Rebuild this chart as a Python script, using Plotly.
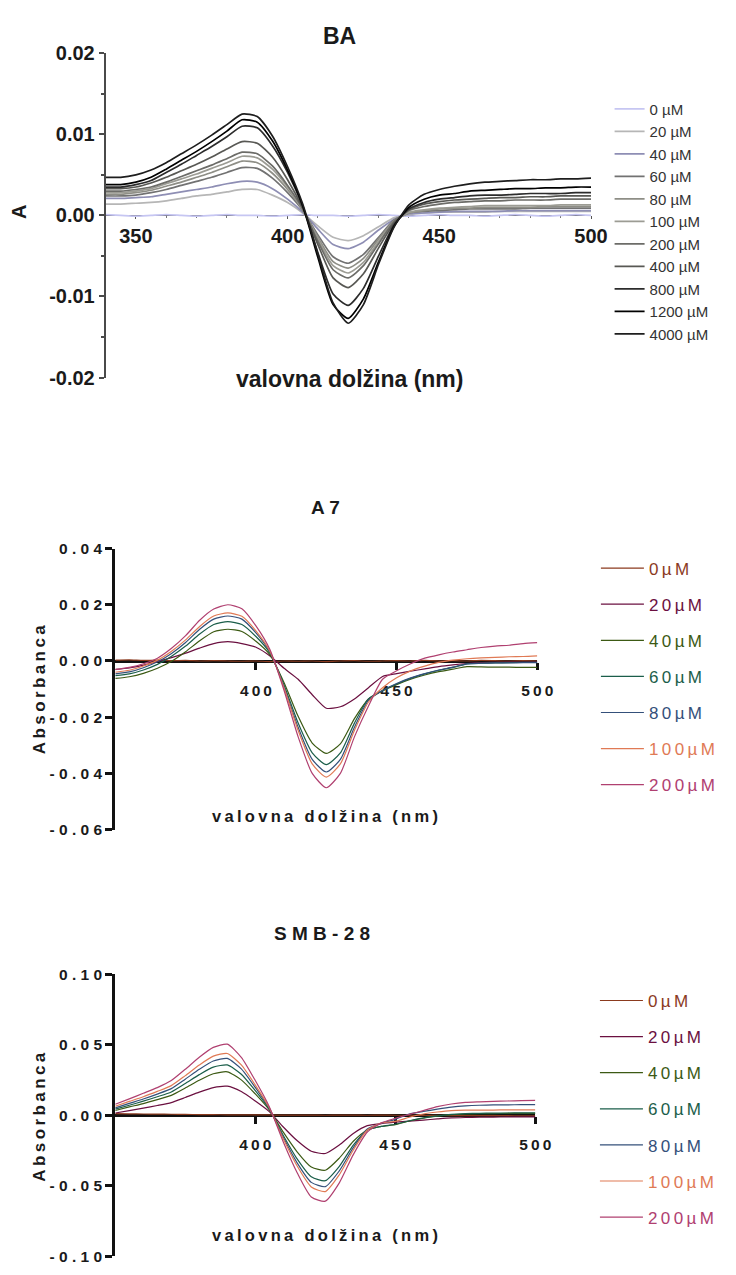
import plotly.graph_objects as go

W, H = 736, 1275

# ---------------- DATA ----------------
# BA panel (absorbance, x1e-3)
wl_ba = list(range(340, 505, 5))
ba_labels = ["0 µM", "20 µM", "40 µM", "60 µM", "80 µM", "100 µM", "200 µM",
             "400 µM", "800 µM", "1200 µM", "4000 µM"]
ba_0 = [0.1, 0.0, -0.1, 0.0, 0.1, 0.0, -0.1, 0.0, 0.1, 0.0, 0.0, -0.1, 0.0, 0.1, 0.0, 0.0, -0.1,
        0.0, 0.1, 0.0, -0.1, 0.0, 0.1, 0.0, 0.0, -0.1, 0.0, 0.1, 0.0, -0.1, 0.0, 0.1, 0.0]
ba_20 = [1.4, 1.4, 1.5, 1.6, 1.8, 2.1, 2.4, 2.6, 2.9, 3.2, 3.2, 2.5, 1.6, 0.3, -1.3, -2.7, -3.1,
         -2.5, -1.4, -0.3, 0.1, 0.3, 0.4, 0.4, 0.4, 0.4, 0.5, 0.5, 0.5, 0.5, 0.5, 0.5, 0.5]
ba_40 = [2.1, 2.1, 2.2, 2.3, 2.6, 2.9, 3.2, 3.5, 3.9, 4.2, 4.1, 3.3, 2.0, 0.4, -1.7, -3.6, -4.1,
         -3.3, -1.8, -0.5, 0.2, 0.3, 0.4, 0.5, 0.5, 0.5, 0.5, 0.6, 0.6, 0.6, 0.6, 0.6, 0.6]
ba_60 = [2.4, 2.4, 2.5, 2.8, 3.2, 3.7, 4.2, 4.7, 5.3, 5.9, 5.8, 4.6, 2.8, 0.6, -2.4, -5.1, -5.9,
         -4.8, -2.7, -0.6, 0.3, 0.5, 0.6, 0.7, 0.8, 0.8, 0.8, 0.8, 0.9, 0.9, 0.9, 0.9, 0.9]
ba_80 = [2.6, 2.6, 2.8, 3.1, 3.6, 4.1, 4.7, 5.3, 6.0, 6.7, 6.5, 5.2, 3.2, 0.7, -2.7, -5.7, -6.5,
         -5.3, -2.9, -0.7, 0.3, 0.6, 0.8, 0.9, 0.9, 1.0, 1.0, 1.0, 1.0, 1.1, 1.1, 1.1, 1.1]
ba_100 = [2.8, 2.8, 3.0, 3.3, 3.9, 4.5, 5.1, 5.8, 6.5, 7.3, 7.1, 5.7, 3.5, 0.7, -2.9, -6.2, -7.1,
          -5.8, -3.2, -0.8, 0.4, 0.7, 0.9, 1.0, 1.1, 1.2, 1.2, 1.2, 1.2, 1.2, 1.3, 1.3, 1.3]
ba_200 = [3.0, 3.0, 3.2, 3.5, 4.1, 4.8, 5.5, 6.2, 7.0, 7.8, 7.6, 6.1, 3.7, 0.8, -3.2, -6.7, -7.7,
          -6.2, -3.5, -0.8, 0.6, 1.1, 1.4, 1.6, 1.7, 1.8, 1.8, 1.9, 1.9, 1.9, 2.0, 2.0, 2.0]
ba_400 = [3.3, 3.3, 3.5, 4.0, 4.7, 5.5, 6.3, 7.2, 8.2, 9.1, 8.9, 7.2, 4.4, 0.9, -3.6, -7.7, -8.9,
          -7.2, -4.0, -1.0, 0.7, 1.4, 1.7, 1.9, 2.0, 2.1, 2.2, 2.2, 2.3, 2.3, 2.4, 2.4, 2.4]
ba_800 = [3.5, 3.5, 3.8, 4.3, 5.3, 6.3, 7.4, 8.5, 9.7, 11.0, 10.8, 8.6, 5.3, 1.1, -4.6, -9.7, -11.1,
          -9.0, -5.0, -1.2, 0.8, 1.6, 2.0, 2.2, 2.4, 2.5, 2.5, 2.6, 2.7, 2.7, 2.7, 2.8, 2.8]
ba_1200 = [3.8, 3.8, 4.1, 4.7, 5.7, 6.8, 7.9, 9.1, 10.4, 11.8, 11.5, 9.2, 5.6, 1.2, -5.2, -11.0, -12.7,
           -10.3, -5.7, -1.4, 1.0, 2.0, 2.5, 2.7, 3.0, 3.1, 3.2, 3.3, 3.3, 3.4, 3.4, 3.5, 3.5]
ba_4000 = [4.7, 4.7, 5.0, 5.6, 6.5, 7.6, 8.7, 9.9, 11.2, 12.5, 12.2, 9.8, 6.0, 1.4, -4.8, -10.8, -13.3,
           -11.0, -6.0, -1.5, 1.3, 2.6, 3.2, 3.6, 3.9, 4.1, 4.2, 4.3, 4.4, 4.4, 4.5, 4.5, 4.6]

# A7 panel (absorbance, x1e-3)
wl_a7 = list(range(350, 505, 5))
a7_labels = ["0µM", "20µM", "40µM", "60µM", "80µM", "100µM", "200µM"]
a7_0 = [0.3, 0.4, 0.2, 0.3, 0.1, 0.2, 0.0, 0.1, 0.0, -0.1, 0.0, -0.2, 0.0, -0.1, 0.0, -0.2,
        0.0, 0.1, -0.1, 0.0, 0.1, 0.0, 0.2, 0.0, 0.1, 0.0, 0.2, 0.1, 0.0, 0.1, 0.0]
a7_20 = [-3.0, -2.5, -1.5, -0.2, 1.2, 2.8, 4.6, 6.2, 6.9, 6.2, 4.9, 1.8, -2.6, -6.5, -12.0, -16.8,
         -16.3, -13.5, -9.5, -5.5, -4.5, -3.6, -2.8, -2.0, -1.4, -0.9, -0.6, -0.5, -0.4, -0.4, -0.3]
a7_40 = [-6.2, -5.6, -4.4, -2.6, -0.1, 3.3, 7.2, 10.4, 11.3, 10.5, 7.0, 2.2, -7.7, -19.7, -29.2, -32.9,
         -29.5, -20.5, -13.5, -10.6, -8.4, -6.5, -5.0, -3.8, -2.9, -2.0, -2.1, -2.2, -2.2, -2.3, -2.3]
a7_60 = [-5.2, -4.6, -3.2, -1.2, 1.7, 5.3, 9.6, 13.0, 14.0, 13.0, 8.7, 2.8, -8.6, -22.1, -32.7, -36.9,
         -32.7, -22.1, -13.5, -10.5, -8.2, -6.2, -4.6, -3.3, -2.3, -1.0, -0.8, -0.7, -0.6, -0.5, -0.5]
a7_80 = [-4.6, -3.9, -2.4, -0.3, 2.7, 6.6, 11.3, 14.9, 16.0, 14.9, 10.0, 3.2, -9.2, -23.6, -35.0, -39.5,
         -35.0, -23.6, -14.0, -10.5, -8.0, -6.0, -4.5, -3.2, -2.2, -1.0, -0.8, -0.7, -0.7, -0.6, -0.6]
a7_100 = [-4.0, -3.3, -1.8, 0.3, 3.5, 7.5, 12.3, 16.0, 17.1, 15.9, 10.7, 3.4, -9.6, -24.7, -36.6, -41.3,
          -36.6, -24.7, -14.6, -9.5, -6.0, -3.5, -1.8, -0.5, 0.3, 0.8, 1.1, 1.3, 1.5, 1.6, 1.8]
a7_200 = [-3.1, -2.3, -1.0, 1.0, 4.5, 9.0, 14.5, 18.5, 20.0, 18.6, 12.5, 4.0, -10.5, -27.0, -40.0, -45.1,
          -40.0, -27.0, -16.0, -6.5, -3.5, -1.0, 1.0, 2.2, 3.2, 4.0, 4.8, 5.3, 5.6, 6.2, 6.5]

# SMB-28 panel (absorbance, x1e-3)
wl_smb = list(range(350, 505, 5))
smb_labels = ["0µM", "20µM", "40µM", "60µM", "80µM", "100µM", "200µM"]
smb_0 = [1.0, 0.9, 0.8, 0.7, 0.6, 0.5, 0.4, 0.3, 0.2, 0.2, 0.1, 0.1, 0.0, 0.0, 0.0, -0.1,
         0.0, 0.0, -0.1, 0.0, -0.1, -0.1, -0.2, -0.2, -0.3, -0.3, -0.4, -0.4, -0.4, -0.5, -0.5]
smb_20 = [1.5, 3.2, 4.9, 6.8, 8.9, 12.5, 16.3, 19.5, 20.5, 16.7, 10.0, 2.5, -8.4, -18.2, -25.6, -27.2,
          -21.2, -13.0, -7.5, -6.0, -5.0, -4.2, -3.5, -2.7, -2.0, -1.7, -1.5, -1.4, -1.3, -1.2, -1.2]
smb_40 = [3.3, 5.8, 8.2, 11.0, 14.0, 19.2, 24.7, 29.3, 30.7, 25.0, 15.0, 3.7, -12.1, -26.2, -36.8, -39.1,
          -30.5, -18.5, -10.5, -8.0, -6.8, -4.2, -2.2, -0.8, 0.3, 0.8, 1.0, 1.1, 1.2, 1.2, 1.2]
smb_60 = [4.2, 7.0, 9.9, 13.0, 16.4, 22.4, 28.7, 34.0, 35.6, 29.0, 17.3, 4.3, -14.4, -31.2, -43.7, -46.5,
          -36.3, -21.2, -10.5, -8.0, -6.5, -4.0, -2.0, -0.6, 0.5, 1.0, 1.3, 1.4, 1.5, 1.6, 1.6]
smb_80 = [5.1, 8.3, 11.4, 14.9, 18.8, 25.5, 32.5, 38.4, 40.2, 32.8, 19.6, 4.8, -15.7, -34.0, -47.7, -50.7,
          -39.5, -23.1, -9.9, -5.8, -3.0, 0.8, 2.6, 4.2, 5.6, 6.5, 7.0, 7.2, 7.3, 7.4, 7.4]
smb_100 = [6.3, 9.7, 13.0, 16.8, 20.9, 28.0, 35.5, 41.8, 43.7, 35.6, 21.3, 5.2, -16.8, -36.3, -50.9, -54.2,
           -42.3, -24.7, -10.6, -5.5, -4.5, -1.5, 0.8, 2.2, 3.2, 3.5, 3.6, 3.6, 3.7, 3.7, 3.7]
smb_200 = [7.7, 11.5, 15.5, 19.5, 24.5, 32.5, 41.0, 48.0, 50.3, 41.0, 24.5, 6.0, -19.0, -41.0, -58.0, -61.0,
           -48.0, -28.0, -12.0, -5.5, -2.3, 0.5, 3.2, 6.0, 7.9, 9.0, 9.4, 9.7, 10.0, 10.3, 10.5]

# ---------------- STYLE ----------------
FONT = "Liberation Sans, Arial, sans-serif"
ba_colors = ["#c6c6f2", "#b6b6b6", "#8e8eb4", "#727272", "#8e8e86", "#9c9c94", "#6c6c68",
             "#585854", "#2c2c2c", "#000000", "#1e1e1e"]
cc_colors = ["#8b3a1e", "#6b1040", "#3c5a14", "#1b5e4a", "#34507a", "#e07a55", "#b04070"]


def sp(s, gap="\u2009"):
    return gap.join(s)


def px(x):
    return x / W


def py(y):
    return 1 - y / H


fig = go.Figure()

ba_series = [ba_0, ba_20, ba_40, ba_60, ba_80, ba_100, ba_200, ba_400, ba_800, ba_1200, ba_4000]
for i, (lab, vals) in enumerate(zip(ba_labels, ba_series)):
    fig.add_trace(go.Scatter(
        x=wl_ba, y=[v / 1000 for v in vals], name=lab, mode="lines",
        line=dict(color=ba_colors[i], width=1.7, shape="spline", smoothing=0.6),
        xaxis="x", yaxis="y", legend="legend", legendgroup=f"ba{i}"))

a7_series = [a7_0, a7_20, a7_40, a7_60, a7_80, a7_100, a7_200]
for i, (lab, vals) in enumerate(zip(a7_labels, a7_series)):
    fig.add_trace(go.Scatter(
        x=wl_a7, y=[v / 1000 for v in vals],
        name=f'<span style="color:{cc_colors[i]}">{sp(lab)}</span>', mode="lines",
        line=dict(color=cc_colors[i], width=1.2, shape="spline", smoothing=0.6),
        xaxis="x2", yaxis="y2", legend="legend2", legendgroup=f"a7{i}"))

smb_series = [smb_0, smb_20, smb_40, smb_60, smb_80, smb_100, smb_200]
for i, (lab, vals) in enumerate(zip(smb_labels, smb_series)):
    fig.add_trace(go.Scatter(
        x=wl_smb, y=[v / 1000 for v in vals],
        name=f'<span style="color:{cc_colors[i]}">{sp(lab)}</span>', mode="lines",
        line=dict(color=cc_colors[i], width=1.2, shape="spline", smoothing=0.6),
        xaxis="x3", yaxis="y3", legend="legend3", legendgroup=f"smb{i}"))


def zero_pos(dom, rng):
    return dom[0] + (0 - rng[0]) / (rng[1] - rng[0]) * (dom[1] - dom[0])


# panel geometry (pixels)
ba_xd = [px(108), px(605)]
ba_yd = [py(373), py(43)]
ba_yr = [-0.02, 0.02]
a7_xd = [px(118), px(550)]
a7_yd = [py(833), py(547)]
a7_yr = [-0.06, 0.04]
smb_xd = [px(118), px(548)]
smb_yd = [py(1267), py(980)]
smb_yr = [-0.10, 0.10]

bold = dict(family=FONT, color="#1a1a1a", weight="bold")
YGAP = " "

fig.update_layout(
    width=W, height=H, margin=dict(l=0, r=0, t=0, b=0),
    paper_bgcolor="white", plot_bgcolor="white",
    font=dict(family=FONT, color="#1a1a1a"),
    # ---- BA ----
    xaxis=dict(domain=ba_xd, range=[340, 500], anchor="free",
               position=zero_pos(ba_yd, ba_yr), showgrid=False, zeroline=False,
               showline=True, linecolor="#444444", linewidth=1, layer="below traces",
               tickmode="array", tickvals=[350, 400, 450, 500],
               ticks="outside", ticklen=3, tickcolor="#555555",
               minor=dict(tickmode="linear", tick0=340, dtick=10, ticks="outside",
                          ticklen=2, tickcolor="#777777"),
               tickfont=dict(size=20, **bold)),
    yaxis=dict(domain=ba_yd, range=ba_yr, anchor="x", showgrid=False, zeroline=False,
               showline=True, linecolor="#4a4a4a", linewidth=1.5,
               tickmode="array", tickvals=[-0.02, -0.01, 0, 0.01, 0.02],
               ticktext=["-0.02", "-0.01", "0.00", "0.01", "0.02"],
               ticks="outside", ticklen=5, tickwidth=1.5, tickcolor="#4a4a4a",
               minor=dict(tickmode="linear", tick0=0, dtick=0.005, ticks="outside",
                          ticklen=3, tickcolor="#4a4a4a"),
               tickfont=dict(size=20, **bold)),
    # ---- A7 ----
    xaxis2=dict(domain=a7_xd, range=[350, 500], anchor="free",
                position=zero_pos(a7_yd, a7_yr), showgrid=False, zeroline=False,
                showline=True, linecolor="#111111", linewidth=2.5, layer="below traces",
                tickmode="array", tickvals=[400, 450, 500],
                ticktext=[sp("400"), sp("450"), sp("500")],
                ticks="outside", ticklen=7, tickwidth=2.5, tickcolor="#111111",
                ticklabelstandoff=8,
                tickfont=dict(size=15.5, **bold)),
    yaxis2=dict(domain=a7_yd, range=a7_yr, anchor="x2", showgrid=False, zeroline=False,
                showline=True, linecolor="#111111", linewidth=3,
                tickmode="array", tickvals=[-0.06, -0.04, -0.02, 0, 0.02, 0.04],
                ticktext=[sp(t, YGAP) for t in ["-0.06", "-0.04", "-0.02", "0.00", "0.02", "0.04"]],
                ticks="outside", ticklen=7, tickwidth=3, tickcolor="#111111",
                tickfont=dict(size=15.5, **bold)),
    # ---- SMB-28 ----
    xaxis3=dict(domain=smb_xd, range=[350, 500], anchor="free",
                position=zero_pos(smb_yd, smb_yr), showgrid=False, zeroline=False,
                showline=True, linecolor="#111111", linewidth=2.5, layer="below traces",
                tickmode="array", tickvals=[400, 450, 500],
                ticktext=[sp("400"), sp("450"), sp("500")],
                ticks="outside", ticklen=7, tickwidth=2.5, tickcolor="#111111",
                ticklabelstandoff=8,
                tickfont=dict(size=15.5, **bold)),
    yaxis3=dict(domain=smb_yd, range=smb_yr, anchor="x3", showgrid=False, zeroline=False,
                showline=True, linecolor="#111111", linewidth=3,
                tickmode="array", tickvals=[-0.10, -0.05, 0, 0.05, 0.10],
                ticktext=[sp(t, YGAP) for t in ["-0.10", "-0.05", "0.00", "0.05", "0.10"]],
                ticks="outside", ticklen=7, tickwidth=3, tickcolor="#111111",
                tickfont=dict(size=15.5, **bold)),
    legend=dict(x=px(624), y=py(83), xanchor="left", yanchor="top",
                font=dict(family=FONT, size=15, color="#333333"),
                itemwidth=30, tracegroupgap=0, bgcolor="rgba(0,0,0,0)"),
    legend2=dict(x=px(610), y=py(549), xanchor="left", yanchor="top",
                 font=dict(family=FONT, size=17),
                 itemwidth=43, tracegroupgap=11, bgcolor="rgba(0,0,0,0)"),
    legend3=dict(x=px(609), y=py(989), xanchor="left", yanchor="top",
                 font=dict(family=FONT, size=17),
                 itemwidth=43, tracegroupgap=11, bgcolor="rgba(0,0,0,0)"),
)

annos = [
    # titles
    dict(text="BA", x=px(348), y=py(25), size=23),
    dict(text=sp("A7", " "), x=px(333), y=py(505), size=19),
    dict(text=sp("SMB-28", " "), x=px(330), y=py(939), size=19),
    # x titles
    dict(text="valovna dolžina (nm)", x=px(358), y=py(374), size=23),
    dict(text=sp("valovna dolžina (nm)"), x=px(333), y=py(819), size=16.5),
    dict(text=sp("valovna dolžina (nm)"), x=px(333), y=py(1245), size=16.5),
]
for a in annos:
    fig.add_annotation(text=a["text"], x=a["x"], y=a["y"], xref="paper", yref="paper",
                       xanchor="center", yanchor="middle", showarrow=False,
                       font=dict(size=a["size"], **bold))

ytitles = [
    dict(text="A", x=px(20), y=py(205), size=20),
    dict(text=sp("Absorbanca"), x=px(40), y=py(691), size=17),
    dict(text=sp("Absorbanca"), x=px(40), y=py(1126), size=17),
]
for a in ytitles:
    fig.add_annotation(text=a["text"], x=a["x"], y=a["y"], xref="paper", yref="paper",
                       xanchor="center", yanchor="middle", showarrow=False, textangle=-90,
                       font=dict(size=a["size"], **bold))

fig.write_html("out.html")
